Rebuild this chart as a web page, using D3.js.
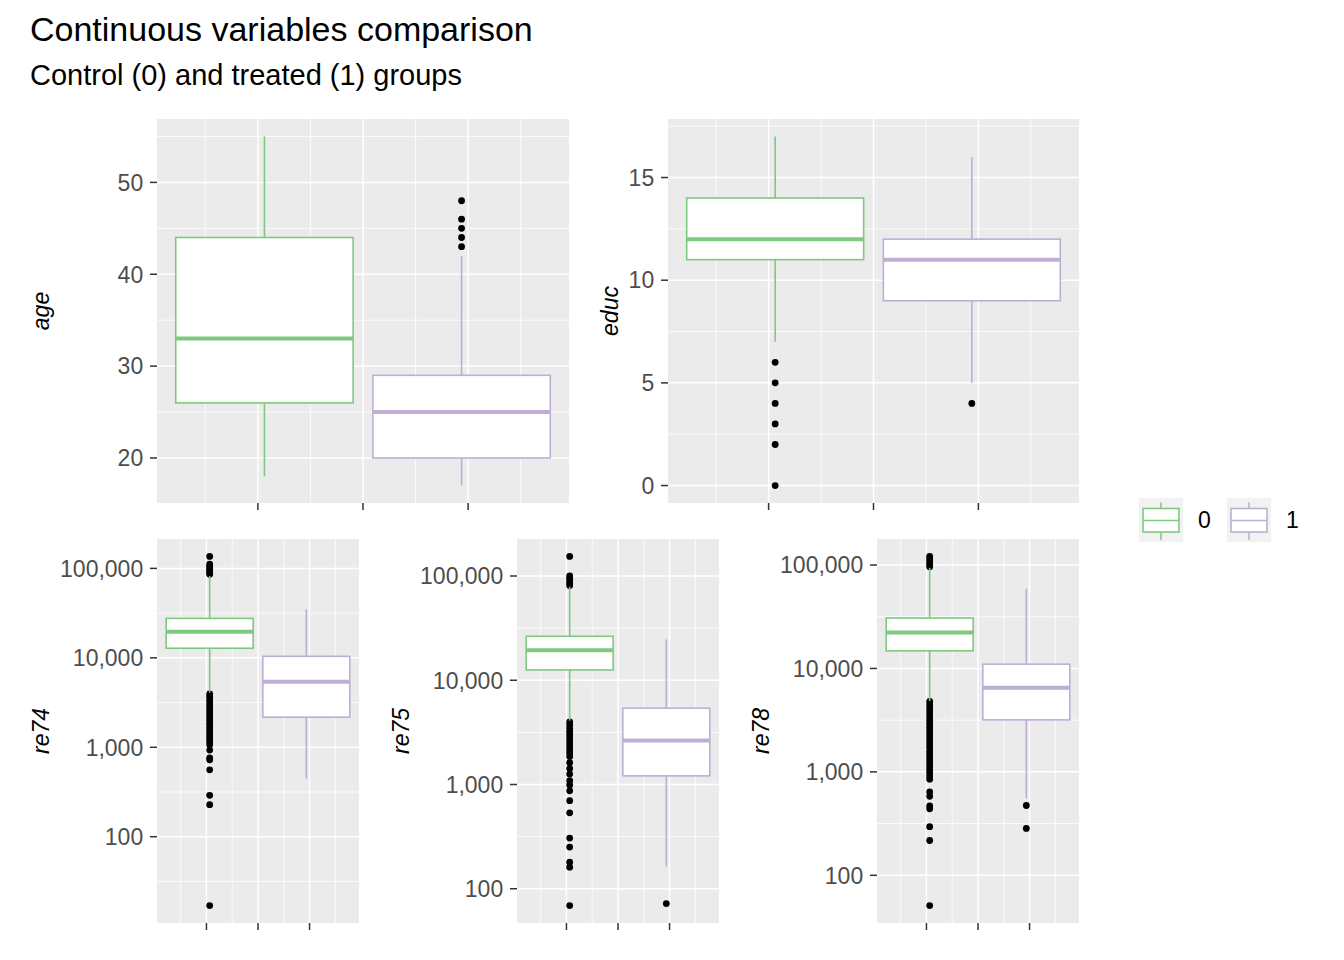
<!DOCTYPE html>
<html>
<head>
<meta charset="utf-8">
<script src="https://cdn.jsdelivr.net/npm/d3@7"></script>
<style>
body { margin: 0; background: #ffffff; }
text { font-family: "Liberation Sans", Arial, sans-serif; }
</style>
</head>
<body>
<svg id="chart" width="1344" height="960"></svg>
<script>
var svg = d3.select("#chart")

// groups (treat) and their colours
var groups = ["0", "1"]
var groupColors = ["#7FC97F", "#BEAED4"]

// box summaries per group: [lower whisker, Q1, median, Q3, upper whisker]
var ageStats = [[18, 26, 33, 44, 55], [17, 20, 25, 29, 42]]
var ageOutliers = [[], [43, 44, 45, 46, 48]]
var ageTicks = [20, 30, 40, 50]

var educStats = [[7, 11, 12, 14, 17], [5, 9, 11, 12, 16]]
var educOutliers = [[0, 2, 3, 4, 5, 6], [4]]
var educTicks = [0, 5, 10, 15]

var re74Stats = [[4070, 12800, 19600, 27600, 82000], [445, 2170, 5400, 10400, 34800]]
var re74Outliers = [
	[136000, 111700, 106000, 100000, 95000, 90000, 86000,
	3950, 3710, 3470, 3240, 3020, 2820, 2630, 2450, 2290, 2140, 2000, 1860, 1740, 1620,
	1510, 1410, 1320, 1230, 1150, 1070, 930, 760, 725, 560, 290, 228, 17],
	[]]

var re75Stats = [[4100, 12560, 19400, 26400, 79000], [164, 1210, 2640, 5400, 24700]]
var re75Outliers = [
	[154000, 100000, 95000, 90000, 85000, 81000,
	3980, 3720, 3470, 3240, 3020, 2820, 2630, 2450, 2290, 2140, 2000, 1860, 1620, 1420,
	1260, 1090, 990, 870, 700, 535, 306, 251, 180, 161, 69],
	[72]]

var re78Stats = [[4840, 14800, 22300, 30700, 94000], [553, 3180, 6520, 11000, 59300]]
var re78Outliers = [
	[121000, 115000, 108000, 102000, 96000,
	4790, 4470, 4170, 3890, 3630, 3390, 3160, 2950, 2750, 2570, 2400, 2240, 2090, 1950,
	1820, 1700, 1580, 1480, 1380, 1290, 1200, 1120, 1050, 980, 910, 850,
	640, 580, 470, 440, 295, 217, 51],
	[473, 284]]

var moneyTicks = [100, 1000, 10000, 100000]

// dodged x positions (continuous x, as ggplot does with no x aesthetic)
var xCenters = [-0.1875, 0.1875]
var boxHalf = 0.16875
var xBreaks = [-0.2, 0, 0.2]
var xMinor = [-0.3, -0.1, 0.1, 0.3]

var panels = [
	{name: "age", stats: ageStats, outliers: ageOutliers, ticks: ageTicks, log: false, left: 157, top: 119, width: 412, height: 384, titleX: 49},
	{name: "educ", stats: educStats, outliers: educOutliers, ticks: educTicks, log: false, left: 668, top: 119, width: 411, height: 384, titleX: 618},
	{name: "re74", stats: re74Stats, outliers: re74Outliers, ticks: moneyTicks, log: true, left: 157, top: 539, width: 202, height: 384, titleX: 49},
	{name: "re75", stats: re75Stats, outliers: re75Outliers, ticks: moneyTicks, log: true, left: 517, top: 539, width: 202, height: 384, titleX: 409},
	{name: "re78", stats: re78Stats, outliers: re78Outliers, ticks: moneyTicks, log: true, left: 877, top: 539, width: 202, height: 384, titleX: 769}
]

var lw = 1.6

// titles
svg.append("text").attr("x", 30).attr("y", 41).style("font-size", "34px").attr("fill", "#000")
	.text("Continuous variables comparison")
svg.append("text").attr("x", 30).attr("y", 85).style("font-size", "29px").attr("fill", "#000")
	.text("Control (0) and treated (1) groups")

function drawPanel(p){
	var g = svg.append("g").attr("transform", "translate(" + p.left + "," + p.top + ")")
	var x = d3.scaleLinear().domain([-0.391875, 0.391875]).range([0, p.width])

	var all = d3.merge(p.stats.concat(p.outliers))
	var y, minors
	if(p.log){
		var lo = Math.log10(d3.min(all)), hi = Math.log10(d3.max(all)), pad = (hi - lo) * 0.05
		y = d3.scaleLog().domain([Math.pow(10, lo - pad), Math.pow(10, hi + pad)]).range([p.height, 0])
		minors = []
		var lt = p.ticks.map(function(t){ return Math.log10(t) })
		for(var k = -1; k < lt.length; k++){
			var m = (k < 0 ? lt[0] - 0.5 : lt[k] + 0.5)
			if(m > lo - pad && m < hi + pad) minors.push(Math.pow(10, m))
		}
	}
	else{
		var mn = d3.min(all), mx = d3.max(all), pd = (mx - mn) * 0.05
		y = d3.scaleLinear().domain([mn - pd, mx + pd]).range([p.height, 0])
		var step = p.ticks[1] - p.ticks[0]
		minors = []
		for(var k = -1; k < p.ticks.length; k++){
			var m = (k < 0 ? p.ticks[0] - step / 2 : p.ticks[k] + step / 2)
			if(m > mn - pd && m < mx + pd) minors.push(m)
		}
	}

	g.append("rect").attr("width", p.width).attr("height", p.height).attr("fill", "#EBEBEB")

	// grid
	g.selectAll(".hminor").data(minors).enter().append("line")
		.attr("x1", 0).attr("x2", p.width).attr("y1", y).attr("y2", y)
		.attr("stroke", "#fff").attr("stroke-width", 0.8)
	g.selectAll(".vminor").data(xMinor).enter().append("line")
		.attr("x1", x).attr("x2", x).attr("y1", 0).attr("y2", p.height)
		.attr("stroke", "#fff").attr("stroke-width", 0.8)
	g.selectAll(".hmajor").data(p.ticks).enter().append("line")
		.attr("x1", 0).attr("x2", p.width).attr("y1", y).attr("y2", y)
		.attr("stroke", "#fff").attr("stroke-width", 1.5)
	g.selectAll(".vmajor").data(xBreaks).enter().append("line")
		.attr("x1", x).attr("x2", x).attr("y1", 0).attr("y2", p.height)
		.attr("stroke", "#fff").attr("stroke-width", 1.5)

	// boxes
	p.stats.forEach(function(s, i){
		var cx = x(xCenters[i]), col = groupColors[i]
		var bx = g.append("g")
		bx.selectAll("circle").data(p.outliers[i]).enter().append("circle")
			.attr("cx", cx).attr("cy", function(d){ return y(d) }).attr("r", 3.4).attr("fill", "#000")
		bx.append("line").attr("x1", cx).attr("x2", cx).attr("y1", y(s[0])).attr("y2", y(s[1]))
			.attr("stroke", col).attr("stroke-width", lw)
		bx.append("line").attr("x1", cx).attr("x2", cx).attr("y1", y(s[3])).attr("y2", y(s[4]))
			.attr("stroke", col).attr("stroke-width", lw)
		bx.append("rect")
			.attr("x", x(xCenters[i] - boxHalf)).attr("width", x(xCenters[i] + boxHalf) - x(xCenters[i] - boxHalf))
			.attr("y", y(s[3])).attr("height", y(s[1]) - y(s[3]))
			.attr("fill", "#fff").attr("stroke", col).attr("stroke-width", lw)
		bx.append("line")
			.attr("x1", x(xCenters[i] - boxHalf)).attr("x2", x(xCenters[i] + boxHalf))
			.attr("y1", y(s[2])).attr("y2", y(s[2]))
			.attr("stroke", col).attr("stroke-width", 4)
	})

	// y axis
	var fmt = p.log ? d3.format(",") : d3.format("d")
	g.selectAll(".ytick").data(p.ticks).enter().append("line")
		.attr("x1", -7).attr("x2", 0).attr("y1", y).attr("y2", y)
		.attr("stroke", "#333333").attr("stroke-width", 1.5)
	g.selectAll(".ylab").data(p.ticks).enter().append("text")
		.attr("x", -13.8).attr("y", y).attr("dy", "0.36em")
		.attr("text-anchor", "end").attr("fill", "#4D4D4D").style("font-size", "23px")
		.text(fmt)
	// x axis ticks (no labels)
	g.selectAll(".xtick").data(xBreaks).enter().append("line")
		.attr("x1", x).attr("x2", x).attr("y1", p.height).attr("y2", p.height + 7)
		.attr("stroke", "#333333").attr("stroke-width", 1.5)

	svg.append("text")
		.attr("transform", "translate(" + p.titleX + "," + (p.top + p.height / 2) + ") rotate(-90)")
		.attr("text-anchor", "middle").style("font-size", "23px").style("font-style", "italic")
		.attr("fill", "#000").text(p.name)
}

panels.forEach(drawPanel)

// legend
var legend = svg.append("g").attr("transform", "translate(1139,498)")
groups.forEach(function(grp, i){
	var k = legend.append("g").attr("transform", "translate(" + (i * 88) + ",0)")
	var col = groupColors[i]
	k.append("rect").attr("width", 44).attr("height", 44).attr("fill", "#F2F2F2")
	k.append("line").attr("x1", 22).attr("x2", 22).attr("y1", 4.5).attr("y2", 10.5).attr("stroke", col).attr("stroke-width", lw)
	k.append("line").attr("x1", 22).attr("x2", 22).attr("y1", 34).attr("y2", 42).attr("stroke", col).attr("stroke-width", lw)
	k.append("rect").attr("x", 4).attr("y", 10.5).attr("width", 36).attr("height", 23.5)
		.attr("fill", "#fff").attr("stroke", col).attr("stroke-width", lw)
	k.append("line").attr("x1", 4).attr("x2", 40).attr("y1", 22.5).attr("y2", 22.5).attr("stroke", col).attr("stroke-width", lw)
	k.append("text").attr("x", 59).attr("y", 22).attr("dy", "0.36em")
		.style("font-size", "23px").attr("fill", "#000").text(grp)
})
</script>
</body>
</html>
